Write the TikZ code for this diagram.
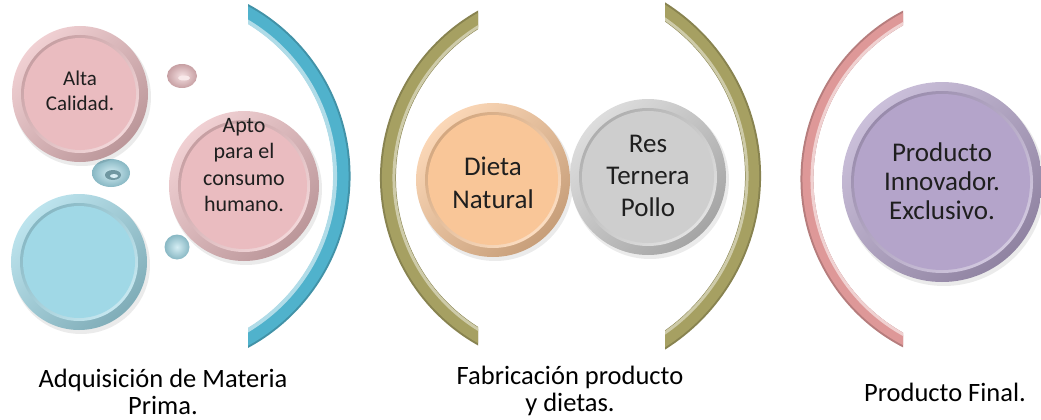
\documentclass[tikz,border=0pt]{standalone}
\usepackage{fontspec}
\setmainfont{Carlito}
\definecolor{pinkB}{RGB}{234,188,192}
\definecolor{blueB}{RGB}{160,216,230}
\definecolor{brBlue}{RGB}{80,178,204}
\definecolor{oliveB}{RGB}{166,160,98}
\definecolor{orangeB}{RGB}{249,198,152}
\definecolor{grayB}{RGB}{206,206,206}
\definecolor{purpleB}{RGB}{180,164,202}
\definecolor{brPink}{RGB}{222,152,152}
\newcommand{\bubble}[4]{%
  \fill[black,opacity=.08,shift={(2,3)}] (#2) circle ({#3+1});
  \node[circle,inner sep=0pt,minimum size={2*#3*1pt}] (#1) at (#2) {};
  \shade[top color=#4!70!white,bottom color=#4!80!black,shading angle=45] (#1) circle (#3);
  \shade[top color=#4!85!black,bottom color=#4!60!white,shading angle=45] (#1) circle ({#3-9});
  \fill[#4] (#1) circle ({#3-12});
}
\newcommand{\bead}[5]{% name, pos, rx, ry, color
  \shade[inner color=#5!45!white,outer color=#5!85!black] (#2) ellipse (#3 and #4);
  \node[inner sep=0pt] (#1) at (#2) {};
}
\newcommand{\bracketarc}[6]{% center, radius, from, to, color, width
  \draw[#5!82!black,line width={#6*1pt}] (#1) ++(#3:#2) arc (#3:#4:#2);
  \draw[#5,line width={(#6-4)*1pt}] (#1) ++(#3:#2) arc (#3:#4:#2);
}
\begin{document}
\begin{tikzpicture}[x=1pt,y=-1pt]
\useasboundingbox (0,0) rectangle (1041,420);
\tikzset{bubtext/.style={align=center,text=black!88}}
% brackets
\begin{scope}
  \clip (248,0) rectangle (400,420);
  \bracketarc{155,176}{187}{-70}{70}{brBlue}{17}
  \draw[brBlue!45!white,line width=4pt] (155,176) ++(-70:180) arc (-70:70:180);
\end{scope}
\begin{scope}
  \clip (300,0) rectangle (478,420);
  \bracketarc{572,178}{184}{110}{250}{oliveB}{16}
  \draw[oliveB!55!white,line width=3pt] (572,178) ++(110:178) arc (110:250:178);
\end{scope}
\begin{scope}
  \clip (665,0) rectangle (800,420);
  \bracketarc{556,176}{197}{-70}{70}{oliveB}{16}
  \draw[oliveB!55!white,line width=3pt] (556,176) ++(-70:191) arc (-70:70:191);
\end{scope}
\begin{scope}
  \clip (760,0) rectangle (903,420);
  \bracketarc{990,179}{183}{110}{250}{brPink}{13}
  \draw[brPink!45!white,line width=3pt] (990,179) ++(110:178) arc (110:250:178);
\end{scope}
% small beads
\bead{sp}{182,76}{15}{12}{pinkB}
\fill[pinkB!35!white] (184,78) ellipse (6 and 2.5);
\bead{tor}{111,173}{19}{14}{blueB}
\fill[blueB!70!black] (113,175) ellipse (8 and 5);
\fill[blueB!40!white] (114,176) ellipse (4 and 2);
\bead{sb}{177,247}{12.5}{12.5}{blueB}
% big bubbles
\bubble{alta}{80,94}{68}{pinkB}
\bubble{apto}{244,186}{75}{pinkB}
\bubble{bigblue}{79,262}{68}{blueB}
\bubble{dieta}{493,180}{77}{orangeB}
\bubble{res}{648,177}{78}{grayB}
\bubble{prod}{942,182}{100}{purpleB}
\node[bubtext,font=\fontsize{21}{25}\selectfont] (altat) at (80,91) {Alta\\Calidad.};
\node[bubtext,font=\fontsize{22}{26.5}\selectfont] (aptot) at (244,165) {Apto\\para el\\consumo\\humano.};
\node[bubtext,font=\fontsize{27}{33}\selectfont] (dietat) at (493,183) {Dieta\\Natural};
\node[bubtext,font=\fontsize{27}{32}\selectfont] (rest) at (648,176) {Res\\Ternera\\Pollo};
\node[bubtext,font=\fontsize{27}{29}\selectfont] (prodt) at (942,181) {Producto\\Innovador.\\Exclusivo.};
% labels
\tikzset{lab/.style={align=center,text=black,font=\fontsize{26.5}{27}\selectfont}}
\node[lab] (l1) at (163,392) {Adquisición de Materia\\Prima.};
\node[lab] (l2) at (570,391) {Fabricación producto\\y dietas.};
\node[lab] (l3) at (945,392) {Producto Final.};
\end{tikzpicture}
\end{document}
